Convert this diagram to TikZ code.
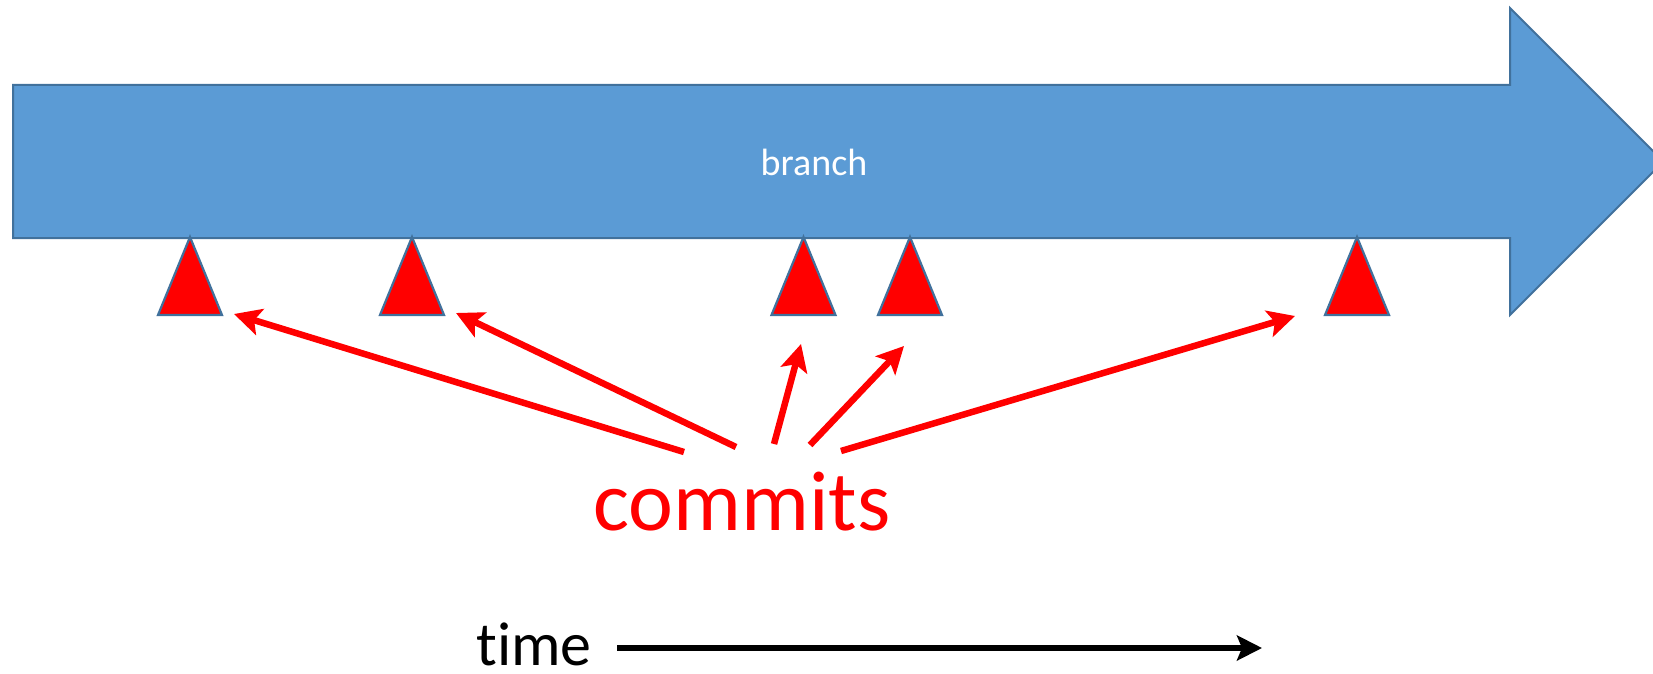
\documentclass[tikz,border=0pt]{standalone}
\usepackage{fontspec}
\setmainfont{Carlito}[Ligatures={NoCommon}]
\usetikzlibrary{arrows.meta}
\definecolor{bodyblue}{HTML}{5B9BD5}
\definecolor{edgeblue}{HTML}{41719C}
\definecolor{cred}{HTML}{FF0000}
\tikzset{
  commitmark/.style={fill=cred, draw=edgeblue, line width=2.2pt, line join=miter},
  commitarrow/.style={draw=cred, line width=6.5pt, -{Stealth[length=27pt, width=27pt, inset=6pt]}},
  timearrow/.style={draw=black, line width=6pt, -{Stealth[length=25pt, width=25pt, inset=5pt]}},
}
\begin{document}
\begin{tikzpicture}[x=1pt,y=-1pt]
\useasboundingbox (0,0) rectangle (1653,674);
\clip (0,0) rectangle (1653,674);
% branch arrow
\draw[fill=bodyblue, draw=edgeblue, line width=2pt, line join=miter]
  (13,85) -- (1510,85) -- (1510,8) -- (1663.5,161.5) -- (1510,315) -- (1510,238) -- (13,238) -- cycle;
\node[text=white, font=\fontsize{38}{44}\selectfont] (branch) at (814,162) {branch};
% commit triangles
\foreach \n/\x in {t1/190, t2/412, t3/803.5, t4/910, t5/1357}{
  \draw[commitmark] (\x,237) -- (\x+32,315) -- (\x-32,315) -- cycle;
}
% arrow end points
\coordinate (s1) at (684,452);
\coordinate (e1) at (234,314);
\coordinate (s2) at (736,447);
\coordinate (e2) at (456,313);
\coordinate (s3) at (774,444);
\coordinate (e3) at (801,344);
\coordinate (s4) at (810,445);
\coordinate (e4) at (904,346);
\coordinate (s5) at (841,451);
\coordinate (e5) at (1295,316);
\draw[commitarrow] (s1) -- (e1);
\draw[commitarrow] (s2) -- (e2);
\draw[commitarrow] (s3) -- (e3);
\draw[commitarrow] (s4) -- (e4);
\draw[commitarrow] (s5) -- (e5);
\node[text=cred, font=\fontsize{85}{96}\selectfont, anchor=base, inner sep=0pt] (commits) at (742,530) {commits};
% time
\node[font=\fontsize{62}{72}\selectfont, anchor=base, inner sep=0pt] (time) at (534,665) {time};
\coordinate (tstart) at (617,648);
\coordinate (tend) at (1262,648);
\draw[timearrow] (tstart) -- (tend);
\end{tikzpicture}
\end{document}
